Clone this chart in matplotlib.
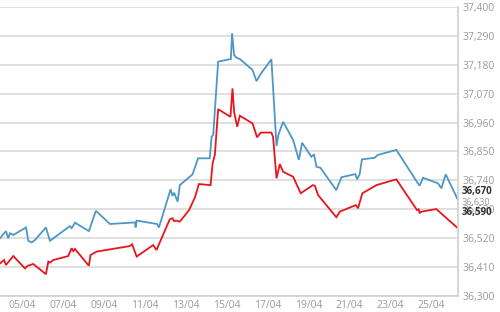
import matplotlib.pyplot as plt
import matplotlib.transforms as mtransforms

# day of April (fractional) and price for the two series
blue_days = [3.94, 4.23, 4.34, 4.43, 4.59, 5.21, 5.32, 5.49, 5.65, 6.18, 6.38,
             7.35, 7.44, 7.60, 8.28, 8.62, 9.31, 10.53, 10.56, 10.61, 11.61,
             11.70, 12.27, 12.36, 12.44, 12.61, 12.72, 13.34, 13.61, 14.18,
             14.27, 14.35, 14.59, 15.21, 15.27, 15.37, 15.49, 15.65, 16.27,
             16.46, 16.71, 17.19, 17.44, 17.53, 17.76, 18.25, 18.53, 18.69,
             19.14, 19.27, 19.39, 19.58, 20.36, 20.61, 21.29, 21.37, 21.50,
             21.61, 22.23, 22.39, 23.29, 24.34, 24.43, 24.59, 25.32, 25.49,
             25.70, 26.27]
blue_vals = [36520, 36547, 36520, 36539, 36532, 36561, 36510, 36504, 36513,
             36561, 36510, 36566, 36558, 36579, 36547, 36624, 36574, 36580,
             36561, 36587, 36574, 36561, 36706, 36681, 36693, 36659, 36722,
             36763, 36824, 36824, 36906, 36913, 37192, 37202, 37300, 37217,
             37207, 37202, 37160, 37118, 37150, 37201, 36871, 36913, 36963,
             36894, 36818, 36883, 36830, 36839, 36792, 36788, 36703, 36752,
             36764, 36744, 36764, 36820, 36826, 36837, 36856, 36729, 36720,
             36750, 36729, 36710, 36763, 36670]

red_days = [3.94, 4.14, 4.23, 4.59, 5.16, 5.27, 5.56, 6.18, 6.30, 6.38, 6.54,
            7.27, 7.44, 7.52, 7.60, 8.28, 8.36, 8.66, 10.28, 10.39, 10.61,
            11.42, 11.58, 12.23, 12.36, 12.44, 12.56, 12.72, 13.17, 13.45,
            13.65, 14.22, 14.32, 14.43, 14.59, 15.19, 15.29, 15.37, 15.52,
            15.65, 16.27, 16.49, 16.67, 17.19, 17.27, 17.44, 17.60, 17.76,
            18.25, 18.62, 19.22, 19.31, 19.47, 20.36, 20.53, 21.31, 21.42,
            21.63, 22.32, 23.29, 24.30, 24.38, 24.43, 24.51, 25.24, 25.44,
            26.25]
red_vals = [36424, 36437, 36418, 36452, 36405, 36414, 36422, 36383, 36431,
            36427, 36437, 36452, 36482, 36471, 36479, 36415, 36456, 36469,
            36490, 36497, 36450, 36494, 36475, 36592, 36596, 36585, 36587,
            36583, 36627, 36674, 36726, 36722, 36805, 36837, 37011, 36982,
            37090, 37001, 36944, 36986, 36957, 36904, 36922, 36922, 36906,
            36748, 36802, 36773, 36754, 36691, 36722, 36720, 36684, 36600,
            36621, 36646, 36634, 36691, 36722, 36744, 36627, 36630, 36615,
            36621, 36631, 36617, 36561]

x_ticks = [5, 7, 9, 11, 13, 15, 17, 19, 21, 23, 25]
x_labels = ["05/04", "07/04", "09/04", "11/04", "13/04", "15/04",
            "17/04", "19/04", "21/04", "23/04", "25/04"]
y_ticks = list(range(36300, 37401, 110))
last_ticks = [36670, 36630, 36590]
last_bold = [True, False, True]

plt.rcParams["font.family"] = ["Open Sans", "DejaVu Sans"]

fig = plt.figure(figsize=(5, 3.12), dpi=100)
ax = fig.add_axes([0.0, 0.0513, 0.916, 0.9263])

ax.plot(blue_days, blue_vals, color="#4d97c6", lw=1.3, solid_joinstyle="miter")
ax.plot(red_days, red_vals, color="#e8161c", lw=1.3, solid_joinstyle="miter")

ax.set_xlim(3.94, 26.30)
ax.set_ylim(36300, 37400)

ax.set_xticks(x_ticks, x_labels)
ax.yaxis.tick_right()
ax.set_yticks(y_ticks, [f"{v:,}" for v in y_ticks])
ax.grid(axis="y", color="#dcdcdc", lw=1.3)
ax.set_axisbelow(True)

ax.tick_params(axis="x", length=0, pad=3, labelsize=7.5, labelcolor="#9a9a9a")
ax.tick_params(axis="y", length=0, pad=3, labelsize=7.5, labelcolor="#9a9a9a")

# last-price labels, nudged up a little as in the original
trans = ax.get_yaxis_transform() + mtransforms.ScaledTranslation(
    4 / 100, 7 / 100, fig.dpi_scale_trans)
for val, bold in zip(last_ticks, last_bold):
    ax.text(1, val, f"{val:,}", transform=trans, ha="left", va="center",
            fontsize=7.0 if bold else 6.6,
            fontweight="bold" if bold else "normal",
            color="#333333" if bold else "#9a9a9a", clip_on=False)

for side in ["left", "top"]:
    ax.spines[side].set_visible(False)
for side in ["right", "bottom"]:
    ax.spines[side].set_color("#d0d0d0")
    ax.spines[side].set_linewidth(1.2)

fig.savefig("out.png", dpi=100)
